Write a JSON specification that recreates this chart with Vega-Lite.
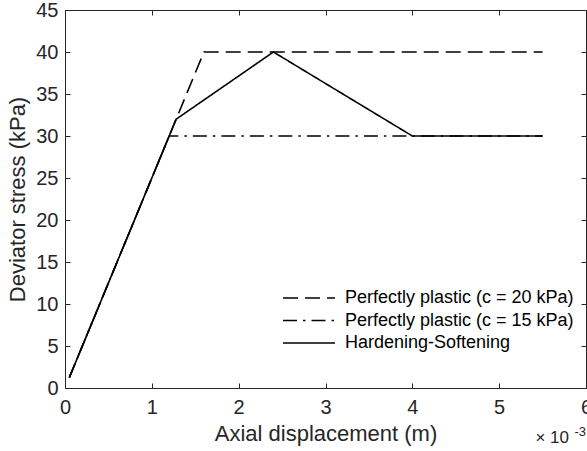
{
  "$schema": "https://vega.github.io/schema/vega-lite/v6.json",
  "width": 521,
  "height": 378,
  "autosize": {"type": "none"},
  "padding": {"left": 65, "top": 10, "right": 1, "bottom": 63},
  "background": "white",
  "config": {
    "view": {"stroke": "#262626", "strokeWidth": 1},
    "font": "Liberation Sans",
    "axis": {
      "labelFont": "Liberation Sans",
      "titleFont": "Liberation Sans",
      "labelColor": "#262626",
      "titleColor": "#262626",
      "domainColor": "#262626",
      "tickColor": "#262626",
      "grid": false,
      "labelFontSize": 20,
      "titleFontSize": 22,
      "titleFontWeight": "normal",
      "tickSize": -5,
      "tickWidth": 1,
      "domainWidth": 1
    }
  },
  "datasets": {
    "curves": [
      {"series": "Perfectly plastic (c = 20 kPa)", "ord": 1, "x": 0.05, "y": 1.25},
      {"series": "Perfectly plastic (c = 20 kPa)", "ord": 2, "x": 1.6, "y": 40},
      {"series": "Perfectly plastic (c = 20 kPa)", "ord": 3, "x": 5.5, "y": 40},
      {"series": "Perfectly plastic (c = 15 kPa)", "ord": 1, "x": 0.05, "y": 1.25},
      {"series": "Perfectly plastic (c = 15 kPa)", "ord": 2, "x": 1.2, "y": 30},
      {"series": "Perfectly plastic (c = 15 kPa)", "ord": 3, "x": 5.5, "y": 30},
      {"series": "Hardening-Softening", "ord": 1, "x": 0.05, "y": 1.25},
      {"series": "Hardening-Softening", "ord": 2, "x": 1.28, "y": 32},
      {"series": "Hardening-Softening", "ord": 3, "x": 2.4, "y": 40},
      {"series": "Hardening-Softening", "ord": 4, "x": 4.0, "y": 30},
      {"series": "Hardening-Softening", "ord": 5, "x": 5.5, "y": 30}
    ],
    "expo": [{"base": "× 10", "power": "-3", "x": 6, "y": 0}]
  },
  "layer": [
    {
      "data": {"name": "curves"},
      "mark": {"type": "line", "color": "black", "strokeWidth": 1.6, "clip": true},
      "encoding": {
        "x": {
          "field": "x", "type": "quantitative",
          "scale": {"domain": [0, 6], "nice": false, "zero": false},
          "axis": {"orient": "bottom", "values": [0, 1, 2, 3, 4, 5, 6], "title": "Axial displacement (m)", "labelPadding": 14, "titlePadding": 6, "labelFlush": false}
        },
        "y": {
          "field": "y", "type": "quantitative",
          "scale": {"domain": [0, 45], "nice": false, "zero": false},
          "axis": {"orient": "left", "values": [0, 5, 10, 15, 20, 25, 30, 35, 40, 45], "title": "Deviator stress (kPa)", "labelPadding": 12, "titlePadding": 6, "labelFlush": false}
        },
        "order": {"field": "ord"},
        "strokeDash": {
          "field": "series", "type": "nominal",
          "scale": {
            "domain": ["Perfectly plastic (c = 20 kPa)", "Perfectly plastic (c = 15 kPa)", "Hardening-Softening"],
            "range": [[15, 7], [14, 6, 2.5, 6], [1, 0]]
          },
          "legend": {
            "title": null,
            "orient": "none",
            "legendX": 235,
            "legendY": 279,
            "padding": 0,
            "symbolType": "M-5.2,0H5.2",
            "symbolSize": 100,
            "symbolStrokeColor": "black",
            "symbolFillColor": "transparent",
            "symbolStrokeWidth": 1.6,
            "labelFont": "Liberation Sans",
            "labelFontSize": 18,
            "labelColor": "black",
            "labelOffset": 27,
            "rowPadding": 4.5,
            "labelLimit": 400
          }
        }
      }
    },
    {
      "data": {"name": "expo"},
      "mark": {"type": "text", "align": "right", "baseline": "alphabetic", "dx": -17, "dy": 55, "fontSize": 17, "color": "#262626", "font": "Liberation Sans"},
      "encoding": {
        "x": {"field": "x", "type": "quantitative", "axis": {"orient": "top", "values": [0, 1, 2, 3, 4, 5, 6], "labels": false, "domain": false, "title": null}},
        "y": {"field": "y", "type": "quantitative", "axis": {"orient": "right", "values": [0, 5, 10, 15, 20, 25, 30, 35, 40, 45], "labels": false, "domain": false, "title": null}},
        "text": {"field": "base"}
      }
    },
    {
      "data": {"name": "expo"},
      "mark": {"type": "text", "align": "right", "baseline": "alphabetic", "dx": 0, "dy": 48, "fontSize": 13, "color": "#262626", "font": "Liberation Sans"},
      "encoding": {
        "x": {"field": "x", "type": "quantitative", "axis": null},
        "y": {"field": "y", "type": "quantitative", "axis": null},
        "text": {"field": "power"}
      }
    }
  ],
  "resolve": {"axis": {"x": "independent", "y": "independent"}}
}
